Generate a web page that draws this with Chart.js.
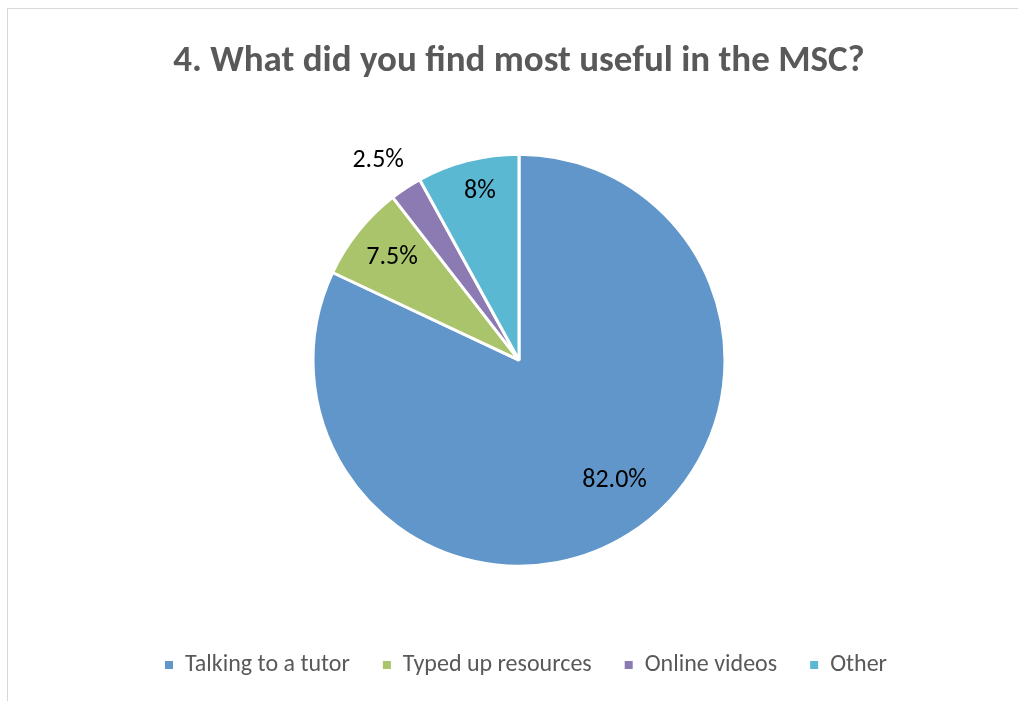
<!DOCTYPE html>
<html>
<head>
<meta charset="utf-8">
<script src="https://cdn.jsdelivr.net/npm/chart.js@4.4.1/dist/chart.umd.min.js"></script>
<style>
  html, body { margin: 0; padding: 0; background: #ffffff; overflow: hidden; }
  #frame { position: absolute; left: 7px; top: 8px; width: 1100px; height: 800px;
           border-left: 1px solid #d9d9d9; border-top: 1px solid #d9d9d9; }
  #wrap { position: absolute; left: 0; top: 0; width: 1018px; height: 701px; }
</style>
</head>
<body>
<div id="frame"></div>
<div id="wrap"><canvas id="c" width="1018" height="701"></canvas></div>
<script>
const titleText = "4. What did you find most useful in the MSC?";
const categories = ["Talking to a tutor", "Typed up resources", "Online videos", "Other"];
const values = [82.0, 7.5, 2.5, 8];
const valueLabels = ["82.0%", "7.5%", "2.5%", "8%"];
const colors = ["#6096C9", "#A9C46A", "#8C7BB3", "#5BB8D2"];

const FONT = "Carlito, Lato, 'Open Sans', sans-serif";

// placement of each value label: fraction of the outer radius, angular shift (deg)
const labelRadius = [0.747, 0.794, 1.186, 0.842];
const labelShift = [-6, 0.4, -1.9, 1.4];

const valueLabelPlugin = {
  id: 'valueLabels',
  afterDatasetsDraw(chart) {
    const ctx = chart.ctx;
    const meta = chart.getDatasetMeta(0);
    ctx.save();
    ctx.font = "26px " + FONT;
    ctx.fillStyle = "#000000";
    ctx.textAlign = "center";
    ctx.textBaseline = "middle";
    meta.data.forEach((arc, i) => {
      const p = arc.getProps(['x', 'y', 'startAngle', 'endAngle', 'outerRadius'], true);
      const mid = (p.startAngle + p.endAngle) / 2 + labelShift[i] * Math.PI / 180;
      const r = p.outerRadius * labelRadius[i];
      ctx.fillText(valueLabels[i], p.x + Math.cos(mid) * r, p.y + Math.sin(mid) * r);
    });
    ctx.restore();
  }
};

// nudge the legend slightly right, as in the reference
const legendShiftPlugin = {
  id: 'legendShift',
  afterLayout(chart) {
    if (chart.legend) {
      chart.legend.left += 7;
      chart.legend.right += 7;
    }
  }
};

new Chart(document.getElementById('c'), {
  type: 'pie',
  data: {
    labels: categories,
    datasets: [{
      data: values,
      backgroundColor: colors,
      borderColor: '#ffffff',
      borderWidth: 3,
      hoverOffset: 0,
      radius: 206
    }]
  },
  options: {
    responsive: false,
    animation: false,
    layout: { padding: { left: 20, right: 0, top: 0, bottom: 14 } },
    plugins: {
      title: {
        display: true,
        text: titleText,
        color: '#595959',
        font: { family: FONT, size: 37, weight: 'bold' },
        padding: { top: 40, bottom: 16 }
      },
      legend: {
        position: 'bottom',
        labels: {
          color: '#595959',
          font: { family: FONT, size: 24 },
          boxWidth: 8,
          boxHeight: 8,
          padding: 33,
          generateLabels(chart) {
            const base = Chart.overrides.pie.plugins.legend.labels.generateLabels(chart);
            return base.map(l => Object.assign({}, l, { lineWidth: 0, strokeStyle: 'rgba(0,0,0,0)' }));
          }
        }
      },
      tooltip: { enabled: false }
    }
  },
  plugins: [valueLabelPlugin, legendShiftPlugin]
});
</script>
</body>
</html>
